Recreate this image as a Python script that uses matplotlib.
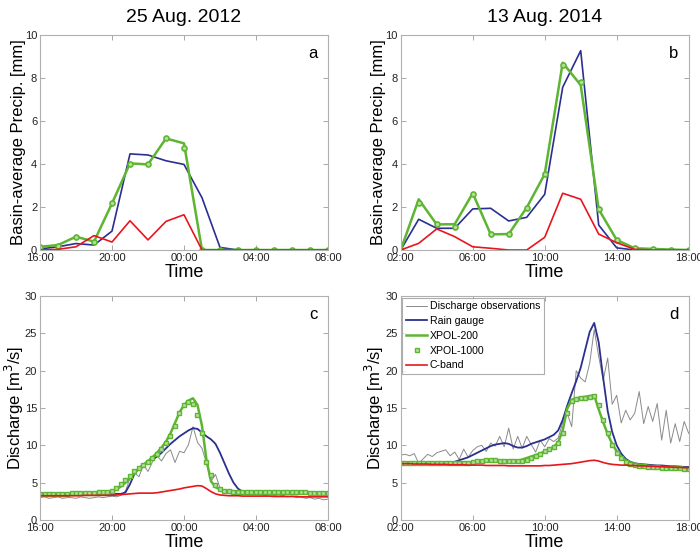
import matplotlib
matplotlib.use("Agg")
import matplotlib.pyplot as plt
import matplotlib.dates as mdates
import numpy as np
import pandas as pd

plt.rcParams['font.family'] = ['Liberation Sans', 'DejaVu Sans']

# hourly basin-average precipitation, panel a (25 Aug 2012, 16:00 -> 08:00)
gauge_a = [0.05, 0.15, 0.3, 0.23, 0.88, 4.47, 4.42, 4.15, 3.98, 2.43, 0.12, 0, 0, 0, 0, 0, 0]
xpol200_a = [0.15, 0.23, 0.62, 0.39, 2.17, 4.03, 3.98, 5.19, 4.96, 0, 0, 0, 0, 0, 0, 0, 0]
xpol1000_a = [0.15, 0.2, 0.62, 0.39, 2.17, 3.98, 3.98, 5.22, 4.73, 0, 0, 0, 0, 0, 0, 0, 0]
cband_a = [0, 0.03, 0.15, 0.67, 0.37, 1.36, 0.47, 1.33, 1.64, 0, 0, 0, 0, 0, 0, 0, 0]

# panel b (13 Aug 2014, 02:00 -> 18:00)
gauge_b = [0, 1.43, 1.01, 1.01, 1.91, 1.94, 1.35, 1.52, 2.59, 7.57, 9.27, 1.16, 0.1, 0, 0, 0, 0]
xpol200_b = [0, 2.36, 1.19, 1.2, 2.64, 0.73, 0.74, 1.97, 3.53, 8.71, 7.67, 1.89, 0.47, 0.08, 0.05, 0.02, 0]
xpol1000_b = [0, 2.17, 1.19, 1.05, 2.59, 0.73, 0.74, 1.97, 3.53, 8.6, 7.83, 1.89, 0.47, 0.08, 0.05, 0.02, 0]
cband_b = [0, 0.31, 0.98, 0.62, 0.15, 0.08, 0, 0, 0.59, 2.64, 2.36, 0.74, 0.34, 0.03, 0, 0, 0]

# 15-min discharge, panel c
obs_c = [3.0, 3.1, 2.9, 3.0, 3.1, 2.9, 3.0, 3.0, 2.9, 3.1, 3.0, 2.9, 3.0, 3.1, 3.0, 3.1,
         3.2, 3.1, 3.3, 3.9, 5.6, 6.3, 5.8, 7.4, 6.5, 7.8, 8.6, 7.9, 8.9, 9.4, 7.7, 9.2,
         9.0, 10.1, 12.5, 10.4, 9.6, 7.6, 5.2, 6.1, 4.3, 3.8, 3.6, 3.5, 3.5, 3.4, 3.5, 3.4,
         3.5, 3.4, 3.3, 3.4, 3.3, 3.2, 3.3, 3.1, 3.2, 3.0, 3.1, 2.9, 3.0, 2.8, 2.9, 2.7, 2.8]
gauge_c = [3.4, 3.4, 3.4, 3.4, 3.4, 3.4, 3.4, 3.4, 3.4, 3.4, 3.45, 3.45, 3.45, 3.45, 3.45, 3.5,
           3.5, 3.5, 3.5, 3.7, 4.8, 6.2, 7.0, 7.4, 7.8, 8.1, 8.5, 9.0, 9.6, 10.2, 10.7, 11.2,
           11.6, 12.0, 12.3, 12.2, 11.7, 11.2, 10.8, 10.2, 9.0, 7.6, 6.2, 5.0, 4.2, 3.8, 3.75, 3.75,
           3.7, 3.7, 3.7, 3.7, 3.7, 3.7, 3.7, 3.65, 3.65, 3.65, 3.65, 3.6, 3.6, 3.6, 3.6, 3.6, 3.6]
xpol200_c = [3.4, 3.4, 3.4, 3.4, 3.45, 3.45, 3.45, 3.5, 3.5, 3.5, 3.55, 3.55, 3.6, 3.6, 3.65, 3.7,
             3.8, 4.1, 4.5, 5.0, 5.6, 6.3, 6.9, 7.4, 7.9, 8.4, 9.0, 9.7, 10.5, 11.6, 13.0, 14.4,
             15.4, 16.0, 16.3, 15.4, 12.6, 8.0, 5.2, 4.4, 4.1, 3.95, 3.9, 3.85, 3.8, 3.8, 3.8, 3.8,
             3.8, 3.8, 3.8, 3.75, 3.75, 3.75, 3.75, 3.7, 3.7, 3.7, 3.7, 3.7, 3.65, 3.65, 3.65, 3.6, 3.6]
xpol1000_c = [3.45, 3.45, 3.45, 3.5, 3.5, 3.5, 3.5, 3.55, 3.55, 3.6, 3.6, 3.6, 3.65, 3.7, 3.75, 3.8,
              3.95, 4.3, 4.8, 5.3, 5.9, 6.5, 7.0, 7.4, 7.8, 8.3, 8.8, 9.5, 10.3, 11.2, 12.6, 14.3,
              15.4, 15.8, 15.5, 14.0, 11.6, 7.8, 6.0, 4.7, 4.2, 3.95, 3.85, 3.8, 3.8, 3.8, 3.8, 3.8,
              3.8, 3.8, 3.75, 3.75, 3.75, 3.75, 3.7, 3.7, 3.7, 3.7, 3.7, 3.7, 3.65, 3.65, 3.65, 3.6, 3.6]
cband_c = [3.25, 3.25, 3.25, 3.25, 3.25, 3.25, 3.25, 3.25, 3.25, 3.25, 3.3, 3.3, 3.3, 3.3, 3.3, 3.3,
           3.3, 3.35, 3.4, 3.45, 3.5, 3.55, 3.6, 3.6, 3.6, 3.6, 3.65, 3.75, 3.85, 3.95, 4.05, 4.15,
           4.3, 4.4, 4.5, 4.6, 4.55, 4.2, 3.8, 3.5, 3.35, 3.3, 3.25, 3.25, 3.25, 3.2, 3.2, 3.2,
           3.2, 3.2, 3.2, 3.2, 3.15, 3.15, 3.15, 3.15, 3.15, 3.15, 3.1, 3.1, 3.1, 3.1, 3.1, 3.1, 3.1]

# panel d
obs_d = [8.7, 8.8, 8.6, 8.9, 7.6, 8.2, 8.8, 8.5, 9.0, 9.2, 9.4, 8.6, 9.1, 8.1, 9.5, 8.4,
         9.3, 9.8, 10.0, 9.2, 10.3, 9.9, 11.2, 9.8, 12.3, 9.5, 11.2, 9.6, 11.2, 10.1, 9.1, 10.7,
         9.8, 10.9, 10.5, 11.0, 13.0, 14.3, 12.5, 20.0, 19.0, 18.5, 21.0, 25.5, 21.9, 18.7, 21.7, 15.5,
         16.7, 13.0, 14.7, 13.4, 14.3, 17.2, 12.9, 15.2, 13.2, 15.6, 10.7, 14.7, 10.3, 12.9, 10.5, 13.2, 11.6]
gauge_d = [7.6, 7.6, 7.6, 7.6, 7.6, 7.6, 7.6, 7.6, 7.6, 7.6, 7.6, 7.65, 7.8, 8.0, 8.2, 8.4,
           8.7, 9.0, 9.3, 9.6, 9.9, 10.1, 10.2, 10.3, 10.2, 9.9, 9.7, 9.7, 9.9, 10.2, 10.4, 10.6,
           10.8, 11.1, 11.4, 12.0, 13.4, 15.3, 17.0, 18.6, 20.4, 22.8, 25.2, 26.4, 23.8, 19.0, 14.6, 11.8,
           10.0, 8.9, 8.2, 7.8, 7.6, 7.5, 7.45, 7.4, 7.35, 7.3, 7.3, 7.25, 7.2, 7.2, 7.15, 7.1, 7.1]
xpol200_d = [7.6, 7.6, 7.6, 7.6, 7.6, 7.6, 7.6, 7.6, 7.6, 7.6, 7.6, 7.6, 7.6, 7.6, 7.6, 7.6,
             7.7, 7.75, 7.8, 7.85, 7.85, 7.85, 7.8, 7.8, 7.8, 7.8, 7.9, 8.1, 8.3, 8.5, 8.7, 8.9,
             9.2, 9.5, 9.8, 10.4, 12.0, 14.9, 16.1, 16.3, 16.4, 16.5, 16.6, 16.7, 14.8, 13.1, 11.5, 10.2,
             9.2, 8.5, 8.0, 7.7, 7.5, 7.4, 7.3, 7.25, 7.2, 7.15, 7.1, 7.05, 7.0, 7.0, 6.95, 6.9, 6.9]
xpol1000_d = [7.65, 7.65, 7.65, 7.65, 7.65, 7.65, 7.65, 7.65, 7.65, 7.65, 7.65, 7.65, 7.65, 7.65, 7.7, 7.7,
              7.8, 7.9, 7.95, 8.0, 8.0, 8.0, 7.95, 7.9, 7.9, 7.85, 7.85, 7.95, 8.1, 8.3, 8.6, 8.9,
              9.2, 9.5, 9.8, 10.3, 11.6, 14.3, 15.9, 16.2, 16.3, 16.4, 16.5, 16.6, 15.4, 13.4, 11.6, 10.0,
              9.0, 8.3, 7.8, 7.5, 7.35, 7.25, 7.2, 7.15, 7.1, 7.05, 7.0, 7.0, 6.95, 6.9, 6.9, 6.85, 6.85]
cband_d = [7.55, 7.55, 7.55, 7.5, 7.5, 7.5, 7.5, 7.45, 7.45, 7.45, 7.45, 7.4, 7.4, 7.4, 7.4, 7.35,
           7.35, 7.35, 7.35, 7.3, 7.3, 7.3, 7.3, 7.3, 7.25, 7.25, 7.25, 7.25, 7.25, 7.25, 7.25, 7.25,
           7.3, 7.3, 7.35, 7.4, 7.45, 7.5, 7.55, 7.65, 7.75, 7.85, 7.95, 8.0, 7.9, 7.7, 7.55, 7.45,
           7.4, 7.35, 7.35, 7.3, 7.3, 7.25, 7.25, 7.2, 7.2, 7.15, 7.15, 7.1, 7.1, 7.05, 7.05, 7.0, 7.0]

t_a = pd.date_range('2012-08-25 16:00', periods=17, freq='h')
t_b = pd.date_range('2014-08-13 02:00', periods=17, freq='h')
t_c = pd.date_range('2012-08-25 16:00', periods=65, freq='15min')
t_d = pd.date_range('2014-08-13 02:00', periods=65, freq='15min')

BLUE = '#2b2f8f'
GREEN = '#5db532'
GREEN_FACE = '#b4e09c'
RED = '#e8161c'
GRAY = '#8a8a8a'

fig = plt.figure(figsize=(7.0, 5.56), dpi=100)
w = 288 / 700
ax_a = fig.add_axes([40 / 700, 306 / 556, w, 215 / 556])
ax_b = fig.add_axes([400.7 / 700, 306 / 556, w, 215 / 556])
ax_c = fig.add_axes([40 / 700, 36 / 556, w, 224 / 556])
ax_d = fig.add_axes([400.7 / 700, 36 / 556, w, 224 / 556])


def style(ax, t, ymax, ystep, letter, first_hour):
	ax.set_xlim(t[0], t[-1])
	ax.set_ylim(0, ymax)
	ax.set_yticks(np.arange(0, ymax + 0.1, ystep))
	ax.xaxis.set_major_locator(mdates.HourLocator(byhour=range(first_hour % 4, 24, 4)))
	ax.xaxis.set_major_formatter(mdates.DateFormatter('%H:%M'))
	ax.tick_params(direction='in', length=3.5, width=0.6, color='#999999',
				   top=True, right=True, labelsize=8, labelcolor='#222222', pad=2)
	for s in ax.spines.values():
		s.set_color('#b0b0b0')
		s.set_linewidth(0.8)
	ax.set_xlabel('Time', fontsize=13, labelpad=1)
	ax.text(0.965, 0.95, letter, transform=ax.transAxes, ha='right', va='top', fontsize=12)
	ax.yaxis.set_label_coords(-0.05, 0.5)


# precipitation panels
for ax, t, g, x2, x1, cb in [(ax_a, t_a, gauge_a, xpol200_a, xpol1000_a, cband_a),
							 (ax_b, t_b, gauge_b, xpol200_b, xpol1000_b, cband_b)]:
	ax.plot(t, g, color=BLUE, lw=1.2)
	ax.plot(t, x2, color=GREEN, lw=1.8)
	ax.plot(t, x1, ls='none', marker='o', ms=3.6, mew=1.2, mec=GREEN, mfc=GREEN_FACE)
	ax.plot(t, cb, color=RED, lw=1.2)
	ax.set_ylabel('Basin-average Precip. [mm]', fontsize=12)

style(ax_a, t_a, 10, 2, 'a', 16)
style(ax_b, t_b, 10, 2, 'b', 2)
ax_a.set_title('25 Aug. 2012', fontsize=14, pad=9)
ax_b.set_title('13 Aug. 2014', fontsize=14, pad=9)

# discharge panels
for ax, t, o, g, x2, x1, cb in [(ax_c, t_c, obs_c, gauge_c, xpol200_c, xpol1000_c, cband_c),
								(ax_d, t_d, obs_d, gauge_d, xpol200_d, xpol1000_d, cband_d)]:
	ax.plot(t, o, color=GRAY, lw=0.7, label='Discharge observations')
	ax.plot(t, g, color=BLUE, lw=1.3, label='Rain gauge')
	ax.plot(t, x2, color=GREEN, lw=1.8, label='XPOL-200')
	ax.plot(t, x1, ls='none', marker='s', ms=2.6, mew=1.0, mec=GREEN, mfc=GREEN_FACE, label='XPOL-1000')
	ax.plot(t, cb, color=RED, lw=1.2, label='C-band')
	ax.set_ylabel('Discharge [m$^3$/s]', fontsize=12)

style(ax_c, t_c, 30, 5, 'c', 16)
style(ax_d, t_d, 30, 5, 'd', 2)

leg = ax_d.legend(loc='upper left', fontsize=7.6, frameon=True, fancybox=False,
				  borderpad=0.35, labelspacing=0.45, handlelength=2.0, handletextpad=0.25,
				  borderaxespad=0.15)
leg.get_frame().set_edgecolor('#999999')
leg.get_frame().set_linewidth(0.8)

fig.savefig('out.png', dpi=100)
